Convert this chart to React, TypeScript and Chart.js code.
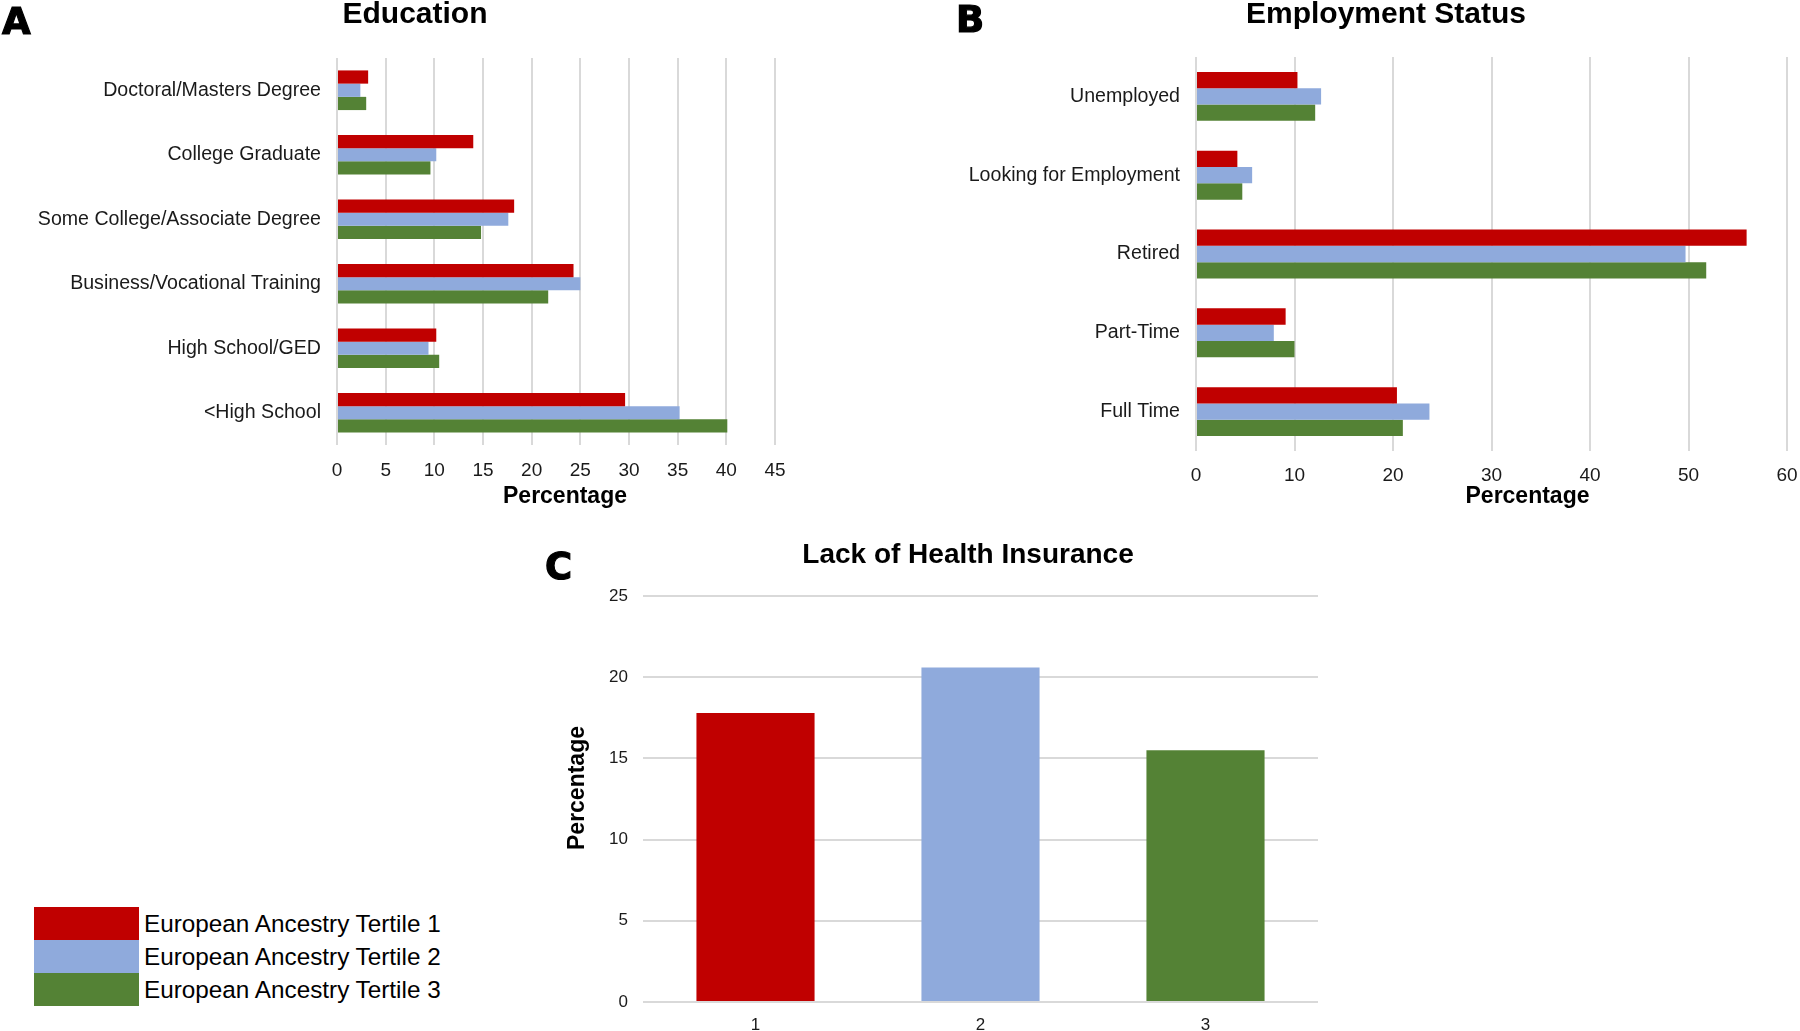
import React, { useEffect, useRef } from "react";
import { Chart, registerables } from "chart.js";

Chart.register(...registerables);

// ---------- data ----------
const SERIES_NAMES = [
  "European Ancestry Tertile 1",
  "European Ancestry Tertile 2",
  "European Ancestry Tertile 3",
];
const SERIES_COLORS = ["#C00000", "#8FAADC", "#548235"];

const educationCategories = [
  "Doctoral/Masters Degree",
  "College Graduate",
  "Some College/Associate Degree",
  "Business/Vocational Training",
  "High School/GED",
  "<High School",
];
const educationT1 = [3.2, 14.0, 18.2, 24.3, 10.2, 29.6];
const educationT2 = [2.4, 10.2, 17.6, 25.0, 9.4, 35.2];
const educationT3 = [3.0, 9.6, 14.8, 21.7, 10.5, 40.1];
const educationAxis = { min: 0, max: 45, step: 5 };

const employmentCategories = [
  "Unemployed",
  "Looking for Employment",
  "Retired",
  "Part-Time",
  "Full Time",
];
const employmentT1 = [10.3, 4.2, 55.9, 9.1, 20.4];
const employmentT2 = [12.7, 5.7, 49.7, 7.9, 23.7];
const employmentT3 = [12.1, 4.7, 51.8, 10.0, 21.0];
const employmentAxis = { min: 0, max: 60, step: 10 };

const insuranceCategories = ["1", "2", "3"];
const insuranceValues = [17.8, 20.6, 15.5];
const insuranceAxis = { min: 0, max: 25, step: 5 };

// ---------- styling ----------
const FONT = "'Liberation Sans', Arial, Helvetica, sans-serif";
const TEXT = "#1a1a1a";
const GRID = "#d9d9d9";

Chart.defaults.font.family = FONT;
Chart.defaults.color = TEXT;

// Axis title that can sit off-centre along its axis (as in the original figure)
const offsetAxisTitle = {
  id: "offsetAxisTitle",
  afterDraw(chart: any, _args: any, o: any) {
    if (!o || !o.text) return;
    const s = chart.scales[o.scaleId];
    if (!s) return;
    const ctx = chart.ctx;
    ctx.save();
    ctx.font = `bold ${o.size}px ${FONT}`;
    ctx.fillStyle = "#000";
    ctx.textAlign = "center";
    ctx.textBaseline = "middle";
    if (s.isHorizontal()) {
      ctx.fillText(o.text, (s.left + s.right) / 2 + o.shift, s.bottom - o.edge);
    } else {
      ctx.translate(s.left + o.edge, (s.top + s.bottom) / 2 + o.shift);
      ctx.rotate(-Math.PI / 2);
      ctx.fillText(o.text, 0, 0);
    }
    ctx.restore();
  },
};

type Box = { left: number; top: number; width: number; height: number };

function ChartCanvas({ box, config }: { box: Box; config: any }) {
  const ref = useRef<HTMLCanvasElement | null>(null);
  useEffect(() => {
    if (!ref.current) return;
    const chart = new Chart(ref.current, config);
    return () => chart.destroy();
  }, []);
  return (
    <canvas
      ref={ref}
      width={box.width}
      height={box.height}
      style={{
        position: "absolute",
        left: box.left,
        top: box.top,
        width: box.width,
        height: box.height,
      }}
    />
  );
}

function horizontalGrouped(opts: {
  title: string;
  titlePadBottom: number;
  categories: string[];
  series: number[][];
  axis: { min: number; max: number; step: number };
  yWidth: number;
  rightPad: number;
  xHeight: number;
  catPct: number;
  tickPad: number;
  xTitleShift: number;
}) {
  return {
    type: "bar",
    data: {
      labels: opts.categories,
      datasets: opts.series.map((vals, i) => ({
        label: SERIES_NAMES[i],
        data: vals,
        backgroundColor: SERIES_COLORS[i],
        borderWidth: 0,
        barPercentage: 1,
        categoryPercentage: opts.catPct,
        xAxisID: "x",
        yAxisID: "y",
      })),
    },
    plugins: [offsetAxisTitle],
    options: {
      indexAxis: "y",
      animation: false,
      responsive: false,
      maintainAspectRatio: false,
      layout: { padding: 0 },
      plugins: {
        legend: { display: false },
        tooltip: { enabled: false },
        title: {
          display: true,
          text: opts.title,
          color: "#000",
          font: { size: 30, weight: "bold", lineHeight: 1 },
          padding: { top: 0, bottom: opts.titlePadBottom },
        },
        offsetAxisTitle: {
          text: "Percentage",
          scaleId: "x",
          size: 23,
          shift: opts.xTitleShift,
          edge: 23,
        },
      },
      scales: {
        x: {
          type: "linear",
          position: "bottom",
          min: opts.axis.min,
          max: opts.axis.max,
          ticks: { stepSize: opts.axis.step, padding: opts.tickPad, color: TEXT, font: { size: 19 } },
          grid: { color: GRID, lineWidth: 2, drawTicks: false },
          border: { display: false },
          afterFit: (s: any) => {
            s.height = opts.xHeight;
          },
        },
        y: {
          type: "category",
          position: "left",
          grid: { display: false, drawTicks: false },
          border: { display: false },
          ticks: { padding: 16, color: TEXT, font: { size: 19.6 }, autoSkip: false },
          afterFit: (s: any) => {
            s.width = opts.yWidth;
          },
        },
        pad: {
          type: "linear",
          axis: "y",
          position: "right",
          display: true,
          grid: { display: false, drawTicks: false },
          border: { display: false },
          ticks: { display: false },
          afterFit: (s: any) => {
            s.width = opts.rightPad;
          },
        },
      },
    },
  };
}

const educationBox: Box = { left: 0, top: 0, width: 830, height: 520 };
const educationConfig = horizontalGrouped({
  title: "Education",
  titlePadBottom: 28,
  categories: educationCategories,
  series: [educationT1, educationT2, educationT3],
  axis: educationAxis,
  yWidth: 337,
  rightPad: 55,
  xHeight: 75,
  catPct: 0.615,
  tickPad: 14,
  xTitleShift: 9,
});

const employmentBox: Box = { left: 950, top: 0, width: 872, height: 520 };
const employmentConfig = horizontalGrouped({
  title: "Employment Status",
  titlePadBottom: 27,
  categories: employmentCategories,
  series: [employmentT1, employmentT2, employmentT3],
  axis: employmentAxis,
  yWidth: 246,
  rightPad: 35,
  xHeight: 69,
  catPct: 0.62,
  tickPad: 13,
  xTitleShift: 36,
});

const insuranceBox: Box = { left: 540, top: 530, width: 856, height: 501 };
const insuranceConfig = {
  type: "bar",
  data: {
    labels: insuranceCategories,
    datasets: [
      {
        label: "Lack of Health Insurance",
        data: insuranceValues,
        backgroundColor: SERIES_COLORS,
        borderWidth: 0,
        barPercentage: 1,
        categoryPercentage: 0.525,
        xAxisID: "x",
        yAxisID: "y",
      },
    ],
  },
  plugins: [offsetAxisTitle],
  options: {
    animation: false,
    responsive: false,
    maintainAspectRatio: false,
    layout: { padding: 0 },
    plugins: {
      legend: { display: false },
      tooltip: { enabled: false },
      title: {
        display: true,
        text: "Lack of Health Insurance",
        color: "#000",
        font: { size: 28, weight: "bold", lineHeight: 1 },
        padding: { top: 11, bottom: 27 },
      },
      offsetAxisTitle: {
        text: "Percentage",
        scaleId: "y",
        size: 23,
        shift: -11,
        edge: 38,
      },
    },
    scales: {
      x: {
        type: "category",
        position: "bottom",
        grid: { display: false, drawTicks: false },
        border: { display: false },
        ticks: { padding: 13, color: TEXT, font: { size: 17 } },
        afterFit: (s: any) => {
          s.height = 29;
        },
      },
      y: {
        type: "linear",
        position: "left",
        min: insuranceAxis.min,
        max: insuranceAxis.max,
        ticks: { stepSize: insuranceAxis.step, padding: 15, color: TEXT, font: { size: 17 } },
        grid: { color: GRID, lineWidth: 2, drawTicks: false },
        border: { display: false },
        afterFit: (s: any) => {
          s.width = 103;
        },
      },
      pad: {
        type: "linear",
        axis: "y",
        position: "right",
        display: true,
        grid: { display: false, drawTicks: false },
        border: { display: false },
        ticks: { display: false },
        afterFit: (s: any) => {
          s.width = 78;
        },
      },
    },
  },
};

const letterStyle: React.CSSProperties = {
  position: "absolute",
  fontFamily: "'DejaVu Sans', sans-serif",
  fontWeight: 900,
  fontSize: 37,
  lineHeight: "37px",
  color: "#000",
  WebkitTextStroke: "1.2px #000",
};

export default function App() {
  return (
    <div
      style={{
        position: "absolute",
        left: 0,
        top: 0,
        width: 1800,
        height: 1031,
        overflow: "hidden",
        background: "#fff",
      }}
    >
      <ChartCanvas box={educationBox} config={educationConfig} />
      <ChartCanvas box={employmentBox} config={employmentConfig} />
      <ChartCanvas box={insuranceBox} config={insuranceConfig} />

      <div style={{ ...letterStyle, left: 2, top: 3 }}>A</div>
      <div style={{ ...letterStyle, left: 956, top: 1 }}>B</div>
      <div style={{ ...letterStyle, left: 545, top: 548 }}>C</div>

      <div style={{ position: "absolute", left: 34, top: 907 }}>
        {SERIES_NAMES.map((name, i) => (
          <div key={name} style={{ display: "flex", alignItems: "center", height: 33 }}>
            <div style={{ width: 105, height: 33, background: SERIES_COLORS[i] }} />
            <div
              style={{
                marginLeft: 5,
                fontFamily: FONT,
                fontSize: 24.3,
                color: "#000",
                whiteSpace: "nowrap",
              }}
            >
              {name}
            </div>
          </div>
        ))}
      </div>
    </div>
  );
}
